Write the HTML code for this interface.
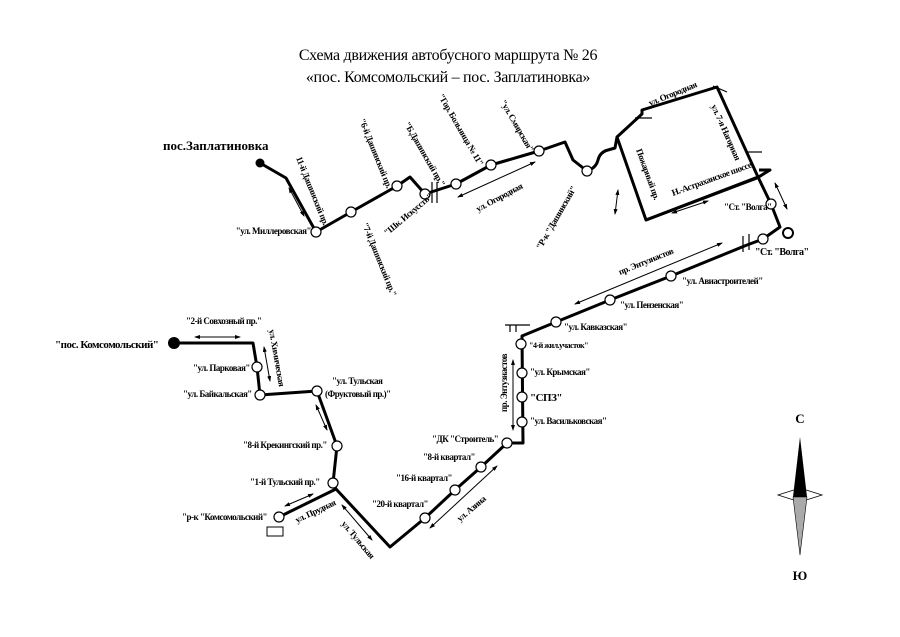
<!DOCTYPE html>
<html><head><meta charset="utf-8"><style>
html,body{margin:0;padding:0;background:#fff;}
svg{display:block;}
text{font-family:"Liberation Serif",serif;fill:#000;}
.s{font-size:9px;font-weight:bold;letter-spacing:-0.5px;}
</style></head><body>
<svg width="900" height="637" viewBox="0 0 900 637" xmlns="http://www.w3.org/2000/svg">
<defs>
<marker id="a" markerWidth="6" markerHeight="6" refX="5" refY="3" orient="auto"><path d="M0,1 L6,3 L0,5 z" fill="#000"/></marker>
<marker id="b" markerWidth="6" markerHeight="6" refX="1" refY="3" orient="auto"><path d="M6,1 L0,3 L6,5 z" fill="#000"/></marker>
</defs>
<text x="448" y="60" font-size="16" text-anchor="middle" letter-spacing="-0.3">Схема движения автобусного маршрута № 26</text>
<text x="448" y="82" font-size="16" text-anchor="middle" letter-spacing="-0.3">«пос. Комсомольский – пос. Заплатиновка»</text>

<g fill="none" stroke="#000" stroke-width="3" stroke-linejoin="round">
<polyline points="260,163 286,178 316,232 351,212 397,186 410,177 425,194 456,184 491,165 539,151 565,142 573,160 587,171"/>
<path d="M587,171 Q596,168 598,160 Q600,152 608,150 L615,148 L617,137"/>
<polygon points="617,137 642,114 642,110 717,87 758,177 646,220"/>
<polyline points="646,220 757,178"/>
<polyline points="757,178 770,170 759,170"/>
<polyline points="758,177 771,204 780,227 763,239"/>
<circle cx="788" cy="233" r="5" stroke-width="2"/>
<polyline points="763,239 747,245 671,276 610,300 556,322 522,336 523,443 507,443 481,467 455,490 425,518 390,547 336,489"/>
<polyline points="336,489 279,517"/>
<polyline points="336,489 333,483 337,446 317,391 260,395 257,367 253,343 174,343"/>
</g>
<circle cx="260" cy="163" r="4.5" fill="#000"/>
<circle cx="174" cy="343" r="6" fill="#000"/>
<g fill="#fff" stroke="#000" stroke-width="1.2">
<circle cx="316" cy="232" r="5"/><circle cx="351" cy="212" r="5"/><circle cx="397" cy="186" r="5"/>
<circle cx="425" cy="194" r="5"/><circle cx="456" cy="184" r="5"/><circle cx="491" cy="165" r="5"/>
<circle cx="539" cy="151" r="5"/><circle cx="587" cy="171" r="5"/><circle cx="771" cy="204" r="5"/>
<circle cx="763" cy="239" r="5"/><circle cx="671" cy="276" r="5"/><circle cx="610" cy="300" r="5"/>
<circle cx="556" cy="322" r="5"/><circle cx="521" cy="344" r="5"/><circle cx="522" cy="373" r="5"/>
<circle cx="522" cy="397" r="5"/><circle cx="522" cy="422" r="5"/><circle cx="507" cy="443" r="5"/>
<circle cx="481" cy="467" r="5"/><circle cx="455" cy="490" r="5"/><circle cx="425" cy="518" r="5"/>
<circle cx="257" cy="367" r="5"/><circle cx="260" cy="395" r="5"/><circle cx="317" cy="391" r="5"/>
<circle cx="337" cy="446" r="5"/><circle cx="333" cy="483" r="5"/><circle cx="279" cy="517" r="5"/>
</g>
<rect x="267" y="527" width="16" height="9" fill="#fff" stroke="#000"/>
<g stroke="#000" stroke-width="1.2">
<line x1="505" y1="325" x2="530" y2="325"/><line x1="510" y1="325" x2="510" y2="332"/><line x1="516" y1="325" x2="516" y2="332"/>
<line x1="743" y1="236" x2="743" y2="252"/><line x1="749" y1="234" x2="749" y2="250"/>
<line x1="432" y1="182" x2="432" y2="203"/><line x1="437" y1="182" x2="437" y2="203"/>
<line x1="635" y1="118" x2="652" y2="118"/><line x1="713" y1="86" x2="727" y2="92"/><line x1="748" y1="152" x2="762" y2="152"/>
</g>
<g stroke="#000" stroke-width="1" marker-end="url(#a)" marker-start="url(#b)">
<line x1="289" y1="188" x2="304" y2="216"/>
<line x1="458" y1="197" x2="535" y2="162"/>
<line x1="615" y1="214" x2="618" y2="190"/>
<line x1="672" y1="213" x2="708" y2="201"/>
<line x1="775" y1="183" x2="787" y2="209"/>
<line x1="575" y1="304" x2="722" y2="243"/>
<line x1="513" y1="360" x2="513" y2="430"/>
<line x1="430" y1="528" x2="497" y2="466"/>
<line x1="195" y1="337" x2="240" y2="337"/>
<line x1="264" y1="347" x2="270" y2="381"/>
<line x1="316" y1="405" x2="327" y2="430"/>
<line x1="285" y1="506" x2="313" y2="494"/>
<line x1="342" y1="505" x2="372" y2="540"/>
</g>
<polygon points="778,495 800,488 822,495 800,502" fill="#fff" stroke="#000" stroke-width="0.8"/>
<polygon points="800,437 807,497 793,497" fill="#000"/>
<polygon points="793,497 807,497 800,555" fill="#aaa" stroke="#000" stroke-width="0.6"/>
<text x="800" y="423" font-size="13" font-weight="bold" text-anchor="middle">С</text>
<text x="800" y="580" font-size="13" font-weight="bold" text-anchor="middle">Ю</text>

<text x="163" y="150" font-size="13" font-weight="bold">пос.Заплатиновка</text>
<text x="55" y="348" font-size="11" font-weight="bold" letter-spacing="-0.5">"пос. Комсомольский"</text>
<g class="s">
<text x="311" y="234" text-anchor="end">"ул. Миллеровская"</text>
<text transform="translate(296,158) rotate(68)">11-й Дашинский пр.</text>
<text transform="translate(359,120) rotate(68)">"6-й Дашинский пр."</text>
<text transform="translate(362,224) rotate(68)">"7-й Дашинский пр."</text>
<text transform="translate(404,124) rotate(60)">"Б.Дашинский пр."</text>
<text transform="translate(438,96) rotate(60)">"Гор. Больница № 11"</text>
<text transform="translate(500,102) rotate(60)">"ул. Смирская"</text>
<text transform="translate(387,236) rotate(-40)">"Шк. Искусств"</text>
<text transform="translate(478,212) rotate(-28)">ул. Огородная</text>
<text transform="translate(541,250) rotate(-60)">"Р-к "Дашинский"</text>
<text transform="translate(650,106) rotate(-22)">ул. Огородная</text>
<text transform="translate(711,106) rotate(66)">ул. 7-я Нагорная</text>
<text transform="translate(636,150) rotate(70)">Пожарный пр.</text>
<text transform="translate(673,196) rotate(-20)">Н.-Астраханское шоссе</text>
<text x="724" y="210">"Ст. "Волга"</text>
<text x="755" y="255" font-size="10">"Ст. "Волга"</text>
<text transform="translate(620,275) rotate(-22)">пр. Энтузиастов</text>
<text x="682" y="284">"ул. Авиастроителей"</text>
<text x="620" y="308">"ул. Пензенская"</text>
<text x="564" y="330">"ул. Кавказская"</text>
<text x="529" y="348" font-size="8">"4-й жил.участок"</text>
<text x="530" y="375">"ул. Крымская"</text>
<text x="530" y="401" font-size="11">"СПЗ"</text>
<text x="530" y="424">"ул. Васильковская"</text>
<text transform="translate(507,412) rotate(-90)">пр. Энтузиастов</text>
<text x="432" y="442">"ДК "Строитель"</text>
<text x="423" y="460">"8-й квартал"</text>
<text x="396" y="481">"16-й квартал"</text>
<text x="372" y="507">"20-й квартал"</text>
<text transform="translate(460,522) rotate(-40)">ул. Азина</text>
<text transform="translate(341,524) rotate(50)">ул. Тульская</text>
<text x="186" y="324">"2-й Совхозный пр."</text>
<text transform="translate(269,330) rotate(80)">ул. Химическая</text>
<text x="193" y="371">"ул. Парковая"</text>
<text x="183" y="397">"ул. Байкальская"</text>
<text x="332" y="384">"ул. Тульская</text>
<text x="325" y="397">(Фруктовый пр.)"</text>
<text x="243" y="448">"8-й Крекингский пр."</text>
<text x="250" y="485">"1-й Тульский пр."</text>
<text x="182" y="520">"р-к "Комсомольский"</text>
<text transform="translate(297,523) rotate(-25)">ул. Прудная</text>
</g>
</svg>
</body></html>
